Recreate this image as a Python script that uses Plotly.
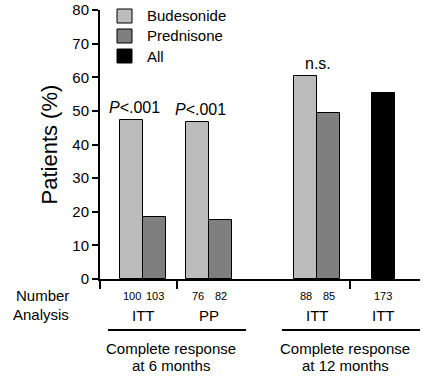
import plotly.graph_objects as go

# ---- data ----
groups = ["ITT 6 months", "PP 6 months", "ITT 12 months"]
budesonide = [47.3, 46.6, 60.4]
prednisone = [18.4, 17.4, 49.4]
all_patients = [55.4]
n_budesonide = [100, 76, 88]
n_prednisone = [103, 82, 85]
n_all = [173]
analysis = ["ITT", "PP", "ITT", "ITT"]
p_values = ["<i>P</i><.001", "<i>P</i><.001", "n.s."]
section_line1 = ["Complete response", "Complete response"]
section_line2 = ["at 6 months", "at 12 months"]
legend_names = ["Budesonide", "Prednisone", "All"]
y_ticks = [0, 10, 20, 30, 40, 50, 60, 70, 80]

# ---- layout helpers (horizontal positions, in axis units) ----
group_centers = [43, 109, 217, 283]
bar_w = 23
sep_ticks = [0, 76.7, 250]
section_spans = [(8, 146), (182, 320)]
section_text_x = [71, 245]

FONT = "Liberation Sans, Arial, sans-serif"
LIGHT = "#bcbcbc"
DARK = "#7f7f7f"
colors = [LIGHT, DARK, "black"]

bud_x = [group_centers[i] - bar_w / 2 for i in range(3)]
pred_x = [group_centers[i] + bar_w / 2 for i in range(3)]
all_x = [group_centers[3]]

fig = go.Figure()
fig.add_trace(go.Bar(x=bud_x, y=budesonide, width=bar_w, name=legend_names[0],
                     marker=dict(color=colors[0], line=dict(color="black", width=1))))
fig.add_trace(go.Bar(x=pred_x, y=prednisone, width=bar_w, name=legend_names[1],
                     marker=dict(color=colors[1], line=dict(color="black", width=1))))
fig.add_trace(go.Bar(x=all_x, y=all_patients, width=bar_w, name=legend_names[2],
                     marker=dict(color=colors[2], line=dict(color="black", width=1))))

def py(p):
    # screen row -> paper coordinate (plot spans rows 10..279)
    return (279 - p) / 269

def px(p):
    # screen column -> paper coordinate (plot spans columns 100..420)
    return (p - 100) / 320

def txt(size):
    return dict(size=size, color="black", family=FONT)

ann = []
shapes = []

def label(x, y, text, size, xref="paper", xanchor="center", yanchor="middle"):
    ann.append(dict(x=x, y=y, xref=xref, yref="paper", text=text, showarrow=False,
                    xanchor=xanchor, yanchor=yanchor, font=txt(size)))

# legend drawn as boxes + labels
for i, name in enumerate(legend_names):
    cy = 16 + 20 * i
    shapes.append(dict(type="rect", xref="paper", yref="paper",
                       x0=px(117), x1=px(132), y0=py(cy + 7), y1=py(cy - 7),
                       fillcolor=colors[i], line=dict(color="black", width=1)))
    label(px(145), py(cy), name, 15, xanchor="left")

for i, t in enumerate(p_values):
    xx = bud_x[i] + 3 if i < 2 else group_centers[i] + 1
    ann.append(dict(x=xx, y=budesonide[i], xref="x", yref="y", text=t, showarrow=False,
                    xanchor="center", yanchor="bottom", yshift=2, font=txt(16)))

for i in range(3):
    label(bud_x[i], py(296), str(n_budesonide[i]), 11, xref="x")
    label(pred_x[i], py(296), str(n_prednisone[i]), 11, xref="x")
label(all_x[0], py(296), str(n_all[0]), 11, xref="x")
for i, t in enumerate(analysis):
    label(group_centers[i], py(315), t, 15, xref="x")
label(px(71), py(295), "Number", 15, xanchor="right")
label(px(71), py(314), "Analysis", 15, xanchor="right")
for i in range(2):
    label(section_text_x[i], py(348), section_line1[i], 15, xref="x")
    label(section_text_x[i], py(365), section_line2[i], 15, xref="x")
ann.append(dict(x=px(49), y=0.5, xref="paper", yref="paper", text="Patients (%)", textangle=-90,
                xanchor="center", yanchor="middle", showarrow=False, font=txt(22)))

for (a, b) in section_spans:
    shapes.append(dict(type="line", xref="x", yref="paper", x0=a, x1=b, y0=py(330), y1=py(330),
                       line=dict(color="black", width=2)))

fig.update_layout(
    width=438, height=390, autosize=False,
    margin=dict(l=100, r=18, t=10, b=111, autoexpand=False),
    paper_bgcolor="white", plot_bgcolor="white",
    font=dict(family=FONT, color="black"),
    bargap=0,
    showlegend=False,
    annotations=ann, shapes=shapes,
    xaxis=dict(range=[0, 320], showline=True, linecolor="black", linewidth=2,
               tickvals=sep_ticks, ticks="outside", ticklen=8, tickwidth=2, tickcolor="black",
               showticklabels=False, showgrid=False, zeroline=False, fixedrange=True,
               automargin=False),
    yaxis=dict(range=[0, 80], tickvals=y_ticks, showline=True, linecolor="black", linewidth=2,
               ticks="outside", ticklen=6, tickwidth=2, tickcolor="black",
               ticklabeloverflow="allow", automargin=False,
               tickfont=txt(15), showgrid=False, zeroline=False, fixedrange=True),
)

fig.write_html("out.html", config={"displayModeBar": False},
               post_script="document.body.style.margin='0';document.body.style.overflow='hidden';")
